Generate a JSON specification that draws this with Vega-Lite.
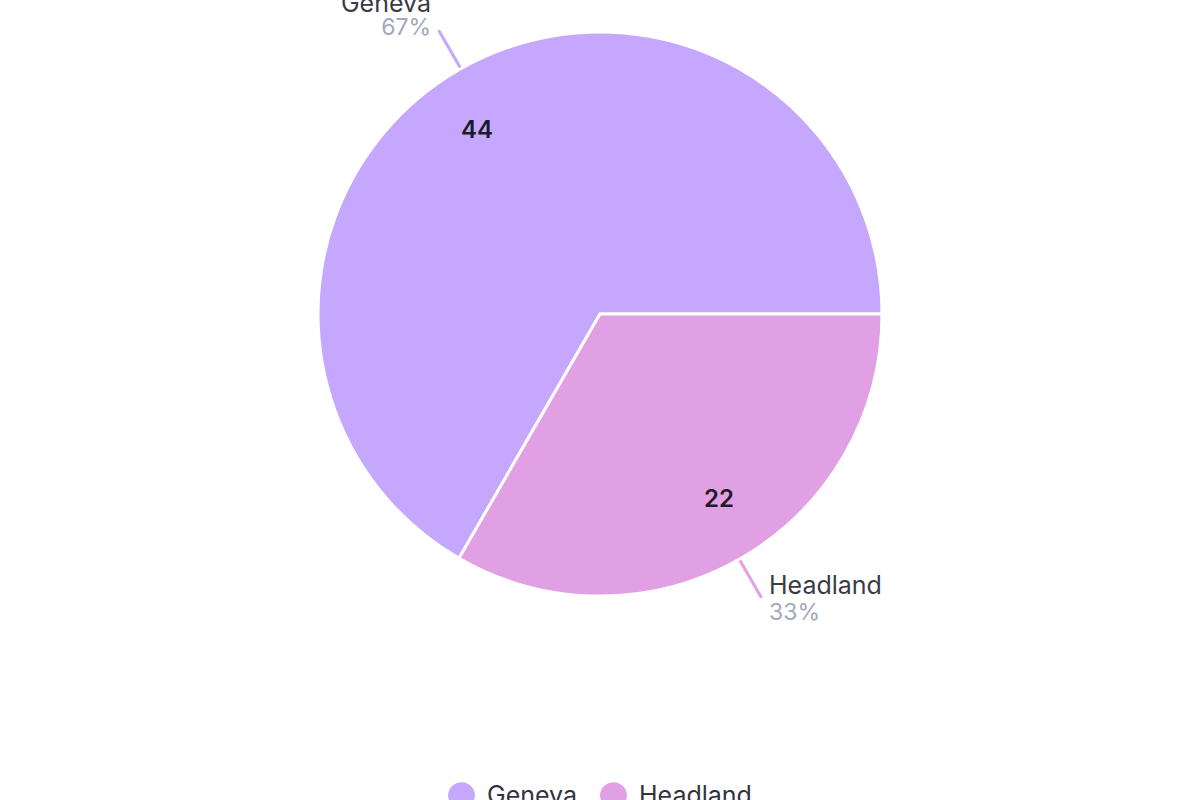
{
  "$schema": "https://vega.github.io/schema/vega-lite/v6.json",
  "width": 1200,
  "height": 626,
  "padding": {"top": -8, "left": 0, "right": 0, "bottom": 0},
  "background": "white",
  "config": {
    "view": {"stroke": null},
    "font": "Inter",
    "legend": {"layout": {"bottom": {"anchor": "middle"}}}
  },
  "data": {
    "values": [
      {"name": "Geneva", "value": 44, "pct": "67%"},
      {"name": "Headland", "value": 22, "pct": "33%"}
    ]
  },
  "encoding": {
    "theta": {
      "field": "value",
      "type": "quantitative",
      "stack": true,
      "scale": {"range": [3.66519, 9.94838]}
    },
    "order": {"field": "value", "type": "quantitative", "sort": "descending"},
    "color": {
      "field": "name",
      "type": "nominal",
      "scale": {"domain": ["Geneva", "Headland"], "range": ["#C5A8FE", "#E1A0E3"]},
      "legend": {
        "orient": "bottom",
        "direction": "horizontal",
        "title": null,
        "symbolType": "circle",
        "symbolSize": 720,
        "symbolStrokeWidth": 0,
        "labelFontSize": 25,
        "labelFont": "Inter",
        "labelColor": "#333340",
        "labelOffset": 12,
        "columnPadding": 22,
        "offset": 155
      }
    }
  },
  "layer": [
    {
      "mark": {"type": "arc", "outerRadius": 282, "stroke": "white", "strokeWidth": 3}
    },
    {
      "mark": {"type": "text", "radius": 220, "fontSize": 24, "fontWeight": 600, "font": "Inter", "dx": -13, "dy": 8},
      "encoding": {
        "text": {"field": "value", "type": "quantitative"},
        "detail": {"field": "name"},
        "color": {"value": "#1b1b2b"},
        "opacity": {"condition": {"test": "datum.name === 'Geneva'", "value": 1}, "value": 0}
      }
    },
    {
      "mark": {"type": "text", "radius": 220, "fontSize": 24, "fontWeight": 600, "font": "Inter", "dx": 9, "dy": -5},
      "encoding": {
        "text": {"field": "value", "type": "quantitative"},
        "detail": {"field": "name"},
        "color": {"value": "#1b1b2b"},
        "opacity": {"condition": {"test": "datum.name === 'Headland'", "value": 1}, "value": 0}
      }
    },
    {
      "mark": {"type": "text", "radius": 305, "fontSize": 43, "font": "Liberation Sans", "angle": 240, "align": "center", "baseline": "middle", "text": "—"},
      "encoding": {
        "detail": {"field": "name"},
        "color": {"value": "#C5A8FE"},
        "opacity": {"condition": {"test": "datum.name === 'Geneva'", "value": 1}, "value": 0}
      }
    },
    {
      "mark": {"type": "text", "radius": 305, "fontSize": 43, "font": "Liberation Sans", "angle": 60, "align": "center", "baseline": "middle", "text": "—"},
      "encoding": {
        "detail": {"field": "name"},
        "color": {"value": "#E1A0E3"},
        "opacity": {"condition": {"test": "datum.name === 'Headland'", "value": 1}, "value": 0}
      }
    },
    {
      "mark": {"type": "text", "radius": 330, "fontSize": 25, "font": "Inter", "align": "right", "baseline": "middle", "dx": -4, "dy": -24},
      "encoding": {
        "detail": {"field": "name"},
        "text": {"field": "name"},
        "color": {"value": "#3a3a48"},
        "opacity": {"condition": {"test": "datum.name === 'Geneva'", "value": 1}, "value": 0}
      }
    },
    {
      "mark": {"type": "text", "radius": 330, "fontSize": 23, "font": "Inter", "align": "right", "baseline": "middle", "dx": -4, "dy": 0},
      "encoding": {
        "detail": {"field": "name"},
        "text": {"field": "pct"},
        "color": {"value": "#a3a8bd"},
        "opacity": {"condition": {"test": "datum.name === 'Geneva'", "value": 1}, "value": 0}
      }
    },
    {
      "mark": {"type": "text", "radius": 330, "fontSize": 25, "font": "Inter", "align": "left", "baseline": "middle", "dx": 4, "dy": -14},
      "encoding": {
        "detail": {"field": "name"},
        "text": {"field": "name"},
        "color": {"value": "#3a3a48"},
        "opacity": {"condition": {"test": "datum.name === 'Headland'", "value": 1}, "value": 0}
      }
    },
    {
      "mark": {"type": "text", "radius": 330, "fontSize": 23, "font": "Inter", "align": "left", "baseline": "middle", "dx": 4, "dy": 13},
      "encoding": {
        "detail": {"field": "name"},
        "text": {"field": "pct"},
        "color": {"value": "#a3a8bd"},
        "opacity": {"condition": {"test": "datum.name === 'Headland'", "value": 1}, "value": 0}
      }
    }
  ]
}
